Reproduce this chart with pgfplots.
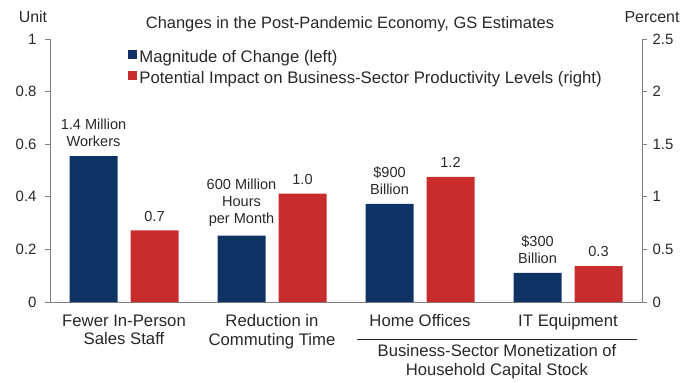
\documentclass[border=0pt]{standalone}
\usepackage{pgfplots}
\pgfplotsset{compat=1.18}
\usepackage{fontspec}
\setmainfont{Liberation Sans}

\definecolor{gsnavy}{RGB}{14,50,100}
\definecolor{gsred}{RGB}{200,44,44}
\definecolor{axisgrey}{RGB}{128,128,128}
\definecolor{txt}{RGB}{40,40,40}

% text sizes
\newcommand{\catfont}{\fontsize{16.8}{18.5}\selectfont}
\newcommand{\numfont}{\fontsize{15}{17}\selectfont}
\newcommand{\valfont}{\fontsize{14.6}{17}\selectfont}

\pgfplotsset{
  gsbase/.style={
    at={(50bp,80bp)}, anchor=south west,
    scale only axis, width=592bp, height=263bp,
    xmin=-0.5, xmax=3.5, ymin=0,
    clip=false,
    ybar, bar width=48bp,
    axis line style={axisgrey, line width=0.8bp},
    tick style={axisgrey, line width=0.8bp},
    tick align=outside,
    major tick length=5bp,
    ticklabel style={font=\numfont, text=txt},
    /pgf/number format/assume math mode=true,
  },
}

\begin{document}
\begin{tikzpicture}[x=1bp,y=1bp]
\path[use as bounding box] (0,0) rectangle (683,382);

% Left scale: magnitude of change
\begin{axis}[gsbase,
  axis y line*=left, axis x line*=bottom,
  ymax=1, ytick={0,0.2,...,1},
  yticklabel style={xshift=-5bp},
  xtick={0,1,2,3},
  xticklabels={Fewer In-Person\\Sales Staff, Reduction in\\Commuting Time, Home Offices, IT Equipment},
  xticklabel style={font=\catfont, align=center, anchor=north, yshift=-4bp},
  x tick style={draw=none},
  minor xtick={0.5,1.5,2.5},
  minor x tick style={axisgrey, line width=0.8bp},
  minor tick length=4bp,
  point meta=explicit symbolic,
  nodes near coords,
  every node near coord/.append style={align=center, font=\valfont, text=txt, anchor=south, inner sep=0pt, yshift=9bp},
  legend style={at={(0.132,0.958)}, anchor=north west, draw=none, fill=none,
    font=\catfont, text=txt, row sep=4bp, inner sep=0pt,
    nodes={inner sep=0pt, text height=12bp, text depth=4bp},
    cells={anchor=west}},
  legend image code/.code={\fill[#1] (0bp,-0.5bp) rectangle (9bp,8.5bp); \path (11bp,0bp);},
]
\addplot[fill=gsnavy, draw=none, bar shift=-30.5bp, forget plot] coordinates {
  (0,0.555) [1.4 Million\\Workers]
  (1,0.252) [600 Million\\Hours\\per Month]
  (2,0.373) [\$900\\Billion]
  (3,0.111) [\$300\\Billion]
};
\addlegendimage{fill=gsnavy, draw=none}
\addlegendentry{Magnitude of Change (left)}
\addlegendimage{fill=gsred, draw=none}
\addlegendentry{Potential Impact on Business-Sector Productivity Levels (right)}
\end{axis}

% Right scale: productivity impact, percent
\begin{axis}[gsbase,
  axis y line*=right, axis x line=none,
  ymax=2.5, ytick={0,0.5,...,2.5},
  yticklabel style={xshift=2bp},
  nodes near coords={\pgfmathprintnumber[fixed,fixed zerofill,precision=1]{\pgfplotspointmeta}},
  every node near coord/.append style={font=\valfont, text=txt, anchor=south, inner sep=0pt, yshift=9bp},
]
\addplot[fill=gsred, draw=none, bar shift=30.5bp] coordinates {
  (0,0.68) (1,1.03) (2,1.19) (3,0.34)
};
\end{axis}

% Titles and group annotation
\node[font=\fontsize{16.5}{18}\selectfont, text=txt] at (350,358) {Changes in the Post-Pandemic Economy, GS Estimates};
\node[font=\fontsize{16}{18}\selectfont, text=txt] at (33,365) {Unit};
\node[font=\fontsize{16}{18}\selectfont, text=txt] at (652,365) {Percent};
\draw[txt, line width=0.8bp] (357,43) -- (637,43);
\node[font=\fontsize{16.7}{19}\selectfont, text=txt, align=center] at (497,20) {Business-Sector Monetization of\\Household Capital Stock};
\end{tikzpicture}
\end{document}
